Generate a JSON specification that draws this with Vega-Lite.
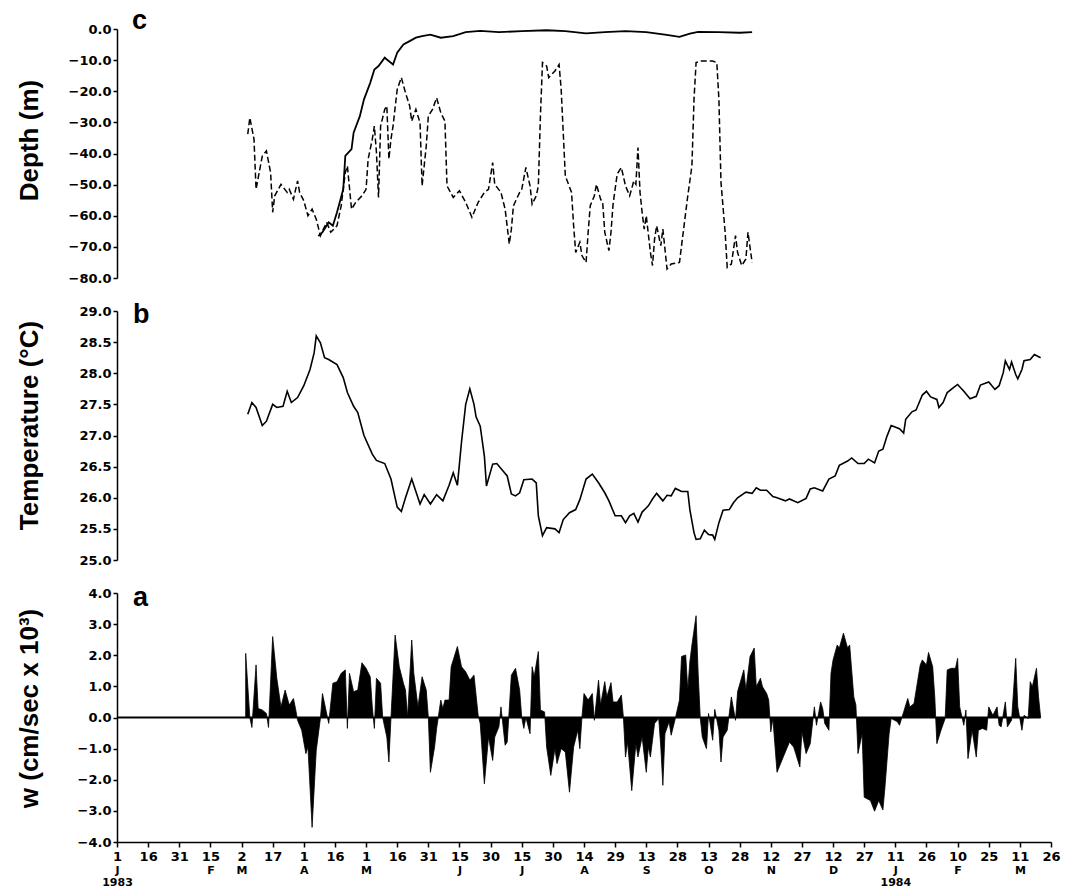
{
  "$schema": "https://vega.github.io/schema/vega-lite/v6.json",
  "background": "white",
  "padding": {"left": 16, "top": 7, "right": 10, "bottom": 5},
  "config": {
    "view": {"stroke": null},
    "axis": {
      "domainColor": "black", "domainWidth": 1.5,
      "tickColor": "black", "tickWidth": 1.5,
      "labelColor": "black", "labelFont": "DejaVu Sans", "labelFontWeight": "bold", "labelFontSize": 13,
      "titleColor": "black", "titleFont": "Liberation Sans", "titleFontWeight": "bold", "titleFontSize": 26,
      "grid": false
    },
    "title": {"font": "Liberation Sans", "fontWeight": "bold", "fontSize": 27, "color": "black", "anchor": "start", "frame": "group", "baseline": "alphabetic"}
  },
  "datasets": {
    "depthDashed": [
      {"date":"1983-03-05","depth":-33.8},{"date":"1983-03-06","depth":-28.5},{"date":"1983-03-08","depth":-35.4},{"date":"1983-03-09","depth":-51.5},
      {"date":"1983-03-12","depth":-40.8},{"date":"1983-03-14","depth":-39.2},{"date":"1983-03-16","depth":-46.1},{"date":"1983-03-17","depth":-58.9},
      {"date":"1983-03-18","depth":-53.6},{"date":"1983-03-21","depth":-49.9},{"date":"1983-03-24","depth":-52.5},{"date":"1983-03-25","depth":-51.5},
      {"date":"1983-03-27","depth":-54.7},{"date":"1983-03-29","depth":-48.8},{"date":"1983-03-30","depth":-52.5},{"date":"1983-04-01","depth":-55.2},
      {"date":"1983-04-03","depth":-60.0},{"date":"1983-04-05","depth":-57.9},{"date":"1983-04-07","depth":-61.1},{"date":"1983-04-09","depth":-66.4},
      {"date":"1983-04-12","depth":-62.1},{"date":"1983-04-14","depth":-65.3},{"date":"1983-04-17","depth":-63.2},{"date":"1983-04-19","depth":-56.8},
      {"date":"1983-04-21","depth":-46.1},{"date":"1983-04-22","depth":-44.0},{"date":"1983-04-24","depth":-57.9},{"date":"1983-04-26","depth":-55.7},
      {"date":"1983-04-29","depth":-53.6},{"date":"1983-05-01","depth":-51.5},{"date":"1983-05-02","depth":-41.8},{"date":"1983-05-04","depth":-35.4},
      {"date":"1983-05-05","depth":-31.2},{"date":"1983-05-06","depth":-39.7},{"date":"1983-05-07","depth":-54.1},{"date":"1983-05-08","depth":-31.2},
      {"date":"1983-05-10","depth":-25.8},{"date":"1983-05-11","depth":-24.7},{"date":"1983-05-12","depth":-41.8},{"date":"1983-05-13","depth":-35.4},
      {"date":"1983-05-14","depth":-31.2},{"date":"1983-05-16","depth":-19.4},{"date":"1983-05-18","depth":-15.6},{"date":"1983-05-20","depth":-20.5},
      {"date":"1983-05-22","depth":-24.7},{"date":"1983-05-23","depth":-29.6},{"date":"1983-05-25","depth":-25.8},{"date":"1983-05-27","depth":-30.1},
      {"date":"1983-05-28","depth":-50.4},{"date":"1983-05-30","depth":-37.6},{"date":"1983-05-31","depth":-28.0},{"date":"1983-06-02","depth":-25.8},
      {"date":"1983-06-04","depth":-22.1},{"date":"1983-06-06","depth":-26.9},{"date":"1983-06-08","depth":-29.6},{"date":"1983-06-09","depth":-50.4},
      {"date":"1983-06-12","depth":-54.1},{"date":"1983-06-15","depth":-52.0},{"date":"1983-06-18","depth":-55.7},{"date":"1983-06-21","depth":-60.5},
      {"date":"1983-06-24","depth":-55.7},{"date":"1983-06-27","depth":-52.5},{"date":"1983-06-29","depth":-51.5},{"date":"1983-07-01","depth":-42.9},
      {"date":"1983-07-02","depth":-49.9},{"date":"1983-07-05","depth":-52.5},{"date":"1983-07-07","depth":-57.9},{"date":"1983-07-09","depth":-69.1},
      {"date":"1983-07-10","depth":-64.3},{"date":"1983-07-11","depth":-56.8},{"date":"1983-07-14","depth":-52.5},{"date":"1983-07-15","depth":-51.5},
      {"date":"1983-07-17","depth":-44.5},{"date":"1983-07-19","depth":-50.4},{"date":"1983-07-20","depth":-56.3},{"date":"1983-07-22","depth":-53.6},
      {"date":"1983-07-23","depth":-50.4},{"date":"1983-07-24","depth":-28.0},{"date":"1983-07-25","depth":-10.8},{"date":"1983-07-27","depth":-11.9},
      {"date":"1983-07-28","depth":-15.6},{"date":"1983-07-31","depth":-13.5},{"date":"1983-08-02","depth":-11.4},{"date":"1983-08-03","depth":-19.4},
      {"date":"1983-08-04","depth":-33.3},{"date":"1983-08-05","depth":-47.2},{"date":"1983-08-08","depth":-52.5},{"date":"1983-08-09","depth":-63.2},
      {"date":"1983-08-10","depth":-71.8},{"date":"1983-08-12","depth":-68.5},{"date":"1983-08-13","depth":-72.8},{"date":"1983-08-15","depth":-75.0},
      {"date":"1983-08-16","depth":-65.3},{"date":"1983-08-17","depth":-56.8},{"date":"1983-08-19","depth":-53.6},{"date":"1983-08-20","depth":-49.9},
      {"date":"1983-08-22","depth":-54.7},{"date":"1983-08-23","depth":-55.7},{"date":"1983-08-24","depth":-65.3},{"date":"1983-08-26","depth":-71.2},
      {"date":"1983-08-27","depth":-65.3},{"date":"1983-08-28","depth":-56.3},{"date":"1983-08-30","depth":-46.6},{"date":"1983-09-01","depth":-44.5},
      {"date":"1983-09-03","depth":-50.4},{"date":"1983-09-05","depth":-53.6},{"date":"1983-09-07","depth":-48.8},{"date":"1983-09-08","depth":-49.9},
      {"date":"1983-09-09","depth":-38.1},{"date":"1983-09-10","depth":-52.5},{"date":"1983-09-11","depth":-58.9},{"date":"1983-09-12","depth":-64.3},
      {"date":"1983-09-13","depth":-60.0},{"date":"1983-09-15","depth":-71.8},{"date":"1983-09-16","depth":-76.0},{"date":"1983-09-17","depth":-67.5},
      {"date":"1983-09-18","depth":-63.2},{"date":"1983-09-20","depth":-69.6},{"date":"1983-09-21","depth":-64.3},{"date":"1983-09-23","depth":-77.1},
      {"date":"1983-09-25","depth":-75.5},{"date":"1983-09-29","depth":-75.0},{"date":"1983-10-01","depth":-64.3},{"date":"1983-10-03","depth":-53.6},
      {"date":"1983-10-05","depth":-44.0},{"date":"1983-10-06","depth":-22.6},{"date":"1983-10-07","depth":-10.8},{"date":"1983-10-09","depth":-10.3},
      {"date":"1983-10-15","depth":-10.3},{"date":"1983-10-17","depth":-10.8},{"date":"1983-10-18","depth":-22.6},{"date":"1983-10-19","depth":-49.3},
      {"date":"1983-10-21","depth":-65.3},{"date":"1983-10-22","depth":-76.6},{"date":"1983-10-24","depth":-75.5},{"date":"1983-10-26","depth":-66.4},
      {"date":"1983-10-27","depth":-71.8},{"date":"1983-10-29","depth":-76.0},{"date":"1983-10-31","depth":-73.9},{"date":"1983-11-01","depth":-65.3},
      {"date":"1983-11-03","depth":-75.0}
    ],
    "depthSolid": [
      {"date":"1983-04-08","depth":-66.5},{"date":"1983-04-10","depth":-65.3},{"date":"1983-04-13","depth":-62.1},{"date":"1983-04-15","depth":-63.2},
      {"date":"1983-04-17","depth":-58.9},{"date":"1983-04-20","depth":-51.5},{"date":"1983-04-21","depth":-40.8},{"date":"1983-04-24","depth":-38.6},
      {"date":"1983-04-25","depth":-33.3},{"date":"1983-04-28","depth":-28.0},{"date":"1983-04-30","depth":-22.6},{"date":"1983-05-03","depth":-17.3},
      {"date":"1983-05-05","depth":-13.0},{"date":"1983-05-07","depth":-11.9},{"date":"1983-05-10","depth":-9.2},{"date":"1983-05-11","depth":-9.8},
      {"date":"1983-05-14","depth":-11.4},{"date":"1983-05-16","depth":-7.6},{"date":"1983-05-19","depth":-5.0},{"date":"1983-05-22","depth":-3.9},
      {"date":"1983-05-25","depth":-2.8},{"date":"1983-05-28","depth":-2.3},{"date":"1983-06-01","depth":-1.8},{"date":"1983-06-06","depth":-2.8},
      {"date":"1983-06-12","depth":-2.3},{"date":"1983-06-18","depth":-1.0},{"date":"1983-06-25","depth":-0.6},{"date":"1983-07-04","depth":-1.0},
      {"date":"1983-07-15","depth":-0.7},{"date":"1983-07-27","depth":-0.4},{"date":"1983-08-05","depth":-0.7},{"date":"1983-08-15","depth":-1.4},
      {"date":"1983-08-24","depth":-1.0},{"date":"1983-09-03","depth":-0.7},{"date":"1983-09-13","depth":-1.0},{"date":"1983-09-22","depth":-1.8},
      {"date":"1983-09-29","depth":-2.5},{"date":"1983-10-04","depth":-1.5},{"date":"1983-10-08","depth":-0.9},{"date":"1983-10-18","depth":-1.0},
      {"date":"1983-10-28","depth":-1.2},{"date":"1983-11-03","depth":-1.0}
    ],
    "temperature": [
      {"date":"1983-03-05","temp":27.34},{"date":"1983-03-07","temp":27.53},{"date":"1983-03-09","temp":27.45},{"date":"1983-03-12","temp":27.16},
      {"date":"1983-03-14","temp":27.23},{"date":"1983-03-17","temp":27.50},{"date":"1983-03-19","temp":27.45},{"date":"1983-03-22","temp":27.47},
      {"date":"1983-03-24","temp":27.71},{"date":"1983-03-26","temp":27.53},{"date":"1983-03-29","temp":27.61},{"date":"1983-04-01","temp":27.80},
      {"date":"1983-04-04","temp":28.06},{"date":"1983-04-06","temp":28.33},{"date":"1983-04-07","temp":28.60},{"date":"1983-04-09","temp":28.49},
      {"date":"1983-04-11","temp":28.25},{"date":"1983-04-13","temp":28.22},{"date":"1983-04-17","temp":28.14},{"date":"1983-04-20","temp":27.93},
      {"date":"1983-04-22","temp":27.69},{"date":"1983-04-25","temp":27.47},{"date":"1983-04-27","temp":27.37},{"date":"1983-04-30","temp":27.00},
      {"date":"1983-05-04","temp":26.70},{"date":"1983-05-06","temp":26.60},{"date":"1983-05-10","temp":26.55},{"date":"1983-05-13","temp":26.30},
      {"date":"1983-05-16","temp":25.85},{"date":"1983-05-18","temp":25.78},{"date":"1983-05-20","temp":26.00},{"date":"1983-05-23","temp":26.30},
      {"date":"1983-05-25","temp":26.10},{"date":"1983-05-27","temp":25.90},{"date":"1983-05-29","temp":26.05},{"date":"1983-06-01","temp":25.90},
      {"date":"1983-06-04","temp":26.05},{"date":"1983-06-07","temp":25.95},{"date":"1983-06-10","temp":26.20},{"date":"1983-06-12","temp":26.40},
      {"date":"1983-06-14","temp":26.20},{"date":"1983-06-16","temp":26.90},{"date":"1983-06-18","temp":27.50},{"date":"1983-06-20","temp":27.75},
      {"date":"1983-06-22","temp":27.50},{"date":"1983-06-23","temp":27.30},{"date":"1983-06-25","temp":27.15},{"date":"1983-06-27","temp":26.67},
      {"date":"1983-06-28","temp":26.19},{"date":"1983-07-01","temp":26.54},{"date":"1983-07-03","temp":26.55},{"date":"1983-07-06","temp":26.43},
      {"date":"1983-07-08","temp":26.35},{"date":"1983-07-10","temp":26.06},{"date":"1983-07-12","temp":26.03},{"date":"1983-07-14","temp":26.08},
      {"date":"1983-07-16","temp":26.29},{"date":"1983-07-20","temp":26.30},{"date":"1983-07-22","temp":26.24},{"date":"1983-07-23","temp":25.71},
      {"date":"1983-07-25","temp":25.39},{"date":"1983-07-27","temp":25.52},{"date":"1983-07-31","temp":25.50},{"date":"1983-08-02","temp":25.44},
      {"date":"1983-08-04","temp":25.65},{"date":"1983-08-07","temp":25.76},{"date":"1983-08-10","temp":25.81},{"date":"1983-08-12","temp":25.97},
      {"date":"1983-08-15","temp":26.30},{"date":"1983-08-18","temp":26.38},{"date":"1983-08-21","temp":26.24},{"date":"1983-08-24","temp":26.08},
      {"date":"1983-08-26","temp":25.95},{"date":"1983-08-29","temp":25.71},{"date":"1983-09-01","temp":25.71},{"date":"1983-09-03","temp":25.60},
      {"date":"1983-09-05","temp":25.71},{"date":"1983-09-07","temp":25.75},{"date":"1983-09-09","temp":25.61},{"date":"1983-09-11","temp":25.77},
      {"date":"1983-09-14","temp":25.87},{"date":"1983-09-16","temp":25.98},{"date":"1983-09-18","temp":26.07},{"date":"1983-09-21","temp":25.95},
      {"date":"1983-09-23","temp":26.04},{"date":"1983-09-25","temp":26.03},{"date":"1983-09-27","temp":26.15},{"date":"1983-09-30","temp":26.10},
      {"date":"1983-10-03","temp":26.10},{"date":"1983-10-04","temp":25.81},{"date":"1983-10-06","temp":25.44},{"date":"1983-10-07","temp":25.33},
      {"date":"1983-10-09","temp":25.34},{"date":"1983-10-11","temp":25.48},{"date":"1983-10-13","temp":25.41},{"date":"1983-10-15","temp":25.40},
      {"date":"1983-10-16","temp":25.33},{"date":"1983-10-18","temp":25.60},{"date":"1983-10-20","temp":25.80},{"date":"1983-10-23","temp":25.81},
      {"date":"1983-10-25","temp":25.92},{"date":"1983-10-27","temp":26.00},{"date":"1983-10-31","temp":26.09},{"date":"1983-11-03","temp":26.07},
      {"date":"1983-11-05","temp":26.16},{"date":"1983-11-07","temp":26.12},{"date":"1983-11-10","temp":26.12},{"date":"1983-11-13","temp":26.02},
      {"date":"1983-11-15","temp":26.00},{"date":"1983-11-19","temp":25.95},{"date":"1983-11-21","temp":25.98},{"date":"1983-11-25","temp":25.92},
      {"date":"1983-11-29","temp":25.99},{"date":"1983-12-01","temp":26.14},{"date":"1983-12-03","temp":26.16},{"date":"1983-12-07","temp":26.11},
      {"date":"1983-12-10","temp":26.30},{"date":"1983-12-13","temp":26.35},{"date":"1983-12-15","temp":26.52},{"date":"1983-12-19","temp":26.59},
      {"date":"1983-12-21","temp":26.64},{"date":"1983-12-24","temp":26.55},{"date":"1983-12-27","temp":26.55},{"date":"1983-12-29","temp":26.62},
      {"date":"1984-01-01","temp":26.56},{"date":"1984-01-03","temp":26.75},{"date":"1984-01-05","temp":26.78},{"date":"1984-01-07","temp":26.99},
      {"date":"1984-01-09","temp":27.16},{"date":"1984-01-13","temp":27.11},{"date":"1984-01-15","temp":27.04},{"date":"1984-01-16","temp":27.26},
      {"date":"1984-01-19","temp":27.38},{"date":"1984-01-21","temp":27.41},{"date":"1984-01-24","temp":27.65},{"date":"1984-01-26","temp":27.71},
      {"date":"1984-01-28","temp":27.62},{"date":"1984-01-31","temp":27.58},{"date":"1984-02-01","temp":27.45},{"date":"1984-02-03","temp":27.53},
      {"date":"1984-02-05","temp":27.69},{"date":"1984-02-08","temp":27.77},{"date":"1984-02-10","temp":27.82},{"date":"1984-02-13","temp":27.71},
      {"date":"1984-02-16","temp":27.59},{"date":"1984-02-19","temp":27.63},{"date":"1984-02-21","temp":27.81},{"date":"1984-02-25","temp":27.86},
      {"date":"1984-02-28","temp":27.74},{"date":"1984-03-01","temp":27.80},{"date":"1984-03-03","temp":28.01},{"date":"1984-03-04","temp":28.20},
      {"date":"1984-03-06","temp":28.06},{"date":"1984-03-07","temp":28.18},{"date":"1984-03-09","temp":27.98},{"date":"1984-03-10","temp":27.91},
      {"date":"1984-03-12","temp":28.06},{"date":"1984-03-13","temp":28.20},{"date":"1984-03-16","temp":28.22},{"date":"1984-03-18","temp":28.30},
      {"date":"1984-03-21","temp":28.25}
    ],
    "w": [
      {"date":"1983-03-04","w":2.06},{"date":"1983-03-06","w":0},{"date":"1983-03-07","w":-0.32},{"date":"1983-03-09","w":1.69},
      {"date":"1983-03-10","w":0.29},{"date":"1983-03-12","w":0.24},{"date":"1983-03-14","w":0.13},{"date":"1983-03-15","w":-0.32},
      {"date":"1983-03-17","w":2.60},{"date":"1983-03-19","w":1.26},{"date":"1983-03-21","w":0.34},{"date":"1983-03-23","w":0.88},
      {"date":"1983-03-25","w":0.40},{"date":"1983-03-27","w":0.61},{"date":"1983-03-28","w":0.29},{"date":"1983-03-29","w":-0.09},
      {"date":"1983-03-31","w":-0.41},{"date":"1983-04-02","w":-1.16},{"date":"1983-04-03","w":-0.95},{"date":"1983-04-05","w":-3.53},
      {"date":"1983-04-07","w":-1.05},{"date":"1983-04-09","w":-0.03},{"date":"1983-04-10","w":0.77},{"date":"1983-04-13","w":-0.19},
      {"date":"1983-04-15","w":1.10},{"date":"1983-04-17","w":1.15},{"date":"1983-04-19","w":1.42},{"date":"1983-04-21","w":1.53},
      {"date":"1983-04-22","w":-0.35},{"date":"1983-04-23","w":1.42},{"date":"1983-04-25","w":0.83},{"date":"1983-04-27","w":0.88},
      {"date":"1983-04-29","w":1.76},{"date":"1983-05-01","w":1.58},{"date":"1983-05-03","w":1.31},{"date":"1983-05-04","w":0.34},
      {"date":"1983-05-05","w":-0.35},{"date":"1983-05-06","w":1.26},{"date":"1983-05-08","w":1.10},{"date":"1983-05-09","w":0},
      {"date":"1983-05-11","w":-0.63},{"date":"1983-05-12","w":-1.43},{"date":"1983-05-13","w":0},{"date":"1983-05-15","w":2.65},
      {"date":"1983-05-17","w":1.63},{"date":"1983-05-19","w":1.10},{"date":"1983-05-20","w":0.88},{"date":"1983-05-21","w":0},
      {"date":"1983-05-23","w":2.49},{"date":"1983-05-24","w":1.42},{"date":"1983-05-26","w":0.34},{"date":"1983-05-28","w":1.31},
      {"date":"1983-05-30","w":0.88},{"date":"1983-05-31","w":0},{"date":"1983-06-01","w":-1.76},{"date":"1983-06-03","w":-0.95},
      {"date":"1983-06-04","w":-0.35},{"date":"1983-06-06","w":0.56},{"date":"1983-06-07","w":0.29},{"date":"1983-06-08","w":0.56},
      {"date":"1983-06-10","w":0.56},{"date":"1983-06-11","w":1.63},{"date":"1983-06-14","w":2.28},{"date":"1983-06-16","w":1.63},
      {"date":"1983-06-18","w":1.47},{"date":"1983-06-20","w":1.20},{"date":"1983-06-22","w":1.36},{"date":"1983-06-24","w":0.07},
      {"date":"1983-06-25","w":-0.19},{"date":"1983-06-27","w":-2.13},{"date":"1983-06-29","w":-0.63},{"date":"1983-07-01","w":-1.38},
      {"date":"1983-07-02","w":-0.63},{"date":"1983-07-04","w":-0.30},{"date":"1983-07-05","w":0.34},{"date":"1983-07-07","w":-0.89},
      {"date":"1983-07-08","w":-0.79},{"date":"1983-07-10","w":1.36},{"date":"1983-07-12","w":1.58},{"date":"1983-07-14","w":0.88},
      {"date":"1983-07-15","w":0},{"date":"1983-07-16","w":-0.35},{"date":"1983-07-17","w":0},{"date":"1983-07-19","w":-0.52},
      {"date":"1983-07-20","w":1.63},{"date":"1983-07-21","w":1.31},{"date":"1983-07-23","w":2.12},{"date":"1983-07-24","w":0.24},
      {"date":"1983-07-26","w":0.18},{"date":"1983-07-27","w":-0.95},{"date":"1983-07-29","w":-1.86},{"date":"1983-07-31","w":-1.00},
      {"date":"1983-08-01","w":-1.48},{"date":"1983-08-03","w":-1.00},{"date":"1983-08-05","w":-1.11},{"date":"1983-08-07","w":-2.40},
      {"date":"1983-08-09","w":-0.95},{"date":"1983-08-11","w":-0.41},{"date":"1983-08-12","w":-1.00},{"date":"1983-08-13","w":0},
      {"date":"1983-08-14","w":0.77},{"date":"1983-08-16","w":0.56},{"date":"1983-08-18","w":0.77},{"date":"1983-08-19","w":-0.09},
      {"date":"1983-08-21","w":1.20},{"date":"1983-08-22","w":0.40},{"date":"1983-08-24","w":1.15},{"date":"1983-08-25","w":0.66},
      {"date":"1983-08-27","w":1.12},{"date":"1983-08-28","w":0.50},{"date":"1983-08-30","w":0.50},{"date":"1983-09-01","w":0.72},
      {"date":"1983-09-02","w":0},{"date":"1983-09-03","w":-1.27},{"date":"1983-09-04","w":-0.79},{"date":"1983-09-06","w":-2.35},
      {"date":"1983-09-08","w":-0.84},{"date":"1983-09-09","w":-1.27},{"date":"1983-09-11","w":-0.63},{"date":"1983-09-13","w":-1.76},
      {"date":"1983-09-14","w":-0.95},{"date":"1983-09-15","w":-1.27},{"date":"1983-09-17","w":-0.19},{"date":"1983-09-19","w":-0.03},
      {"date":"1983-09-20","w":-0.95},{"date":"1983-09-21","w":-2.18},{"date":"1983-09-22","w":-0.52},{"date":"1983-09-24","w":-0.14},
      {"date":"1983-09-25","w":-0.57},{"date":"1983-09-27","w":-0.03},{"date":"1983-09-29","w":0.56},{"date":"1983-09-30","w":1.96},
      {"date":"1983-10-02","w":2.01},{"date":"1983-10-03","w":0.88},{"date":"1983-10-04","w":1.79},{"date":"1983-10-05","w":2.33},
      {"date":"1983-10-07","w":3.27},{"date":"1983-10-08","w":1.42},{"date":"1983-10-09","w":0},{"date":"1983-10-10","w":-0.63},
      {"date":"1983-10-12","w":-1.00},{"date":"1983-10-13","w":0.13},{"date":"1983-10-15","w":-0.73},{"date":"1983-10-16","w":0.26},
      {"date":"1983-10-18","w":-0.41},{"date":"1983-10-19","w":-1.43},{"date":"1983-10-20","w":-0.63},{"date":"1983-10-22","w":-0.41},
      {"date":"1983-10-24","w":0.66},{"date":"1983-10-26","w":-0.09},{"date":"1983-10-27","w":0.83},{"date":"1983-10-30","w":1.53},
      {"date":"1983-10-31","w":0.88},{"date":"1983-11-02","w":1.96},{"date":"1983-11-04","w":2.23},{"date":"1983-11-05","w":0.99},
      {"date":"1983-11-07","w":1.26},{"date":"1983-11-08","w":0.99},{"date":"1983-11-10","w":0.77},{"date":"1983-11-11","w":0.56},
      {"date":"1983-11-12","w":-0.46},{"date":"1983-11-13","w":-0.03},{"date":"1983-11-15","w":-1.76},{"date":"1983-11-18","w":-1.27},
      {"date":"1983-11-21","w":-0.79},{"date":"1983-11-23","w":-0.95},{"date":"1983-11-24","w":-1.16},{"date":"1983-11-26","w":-1.59},
      {"date":"1983-11-27","w":-0.46},{"date":"1983-11-29","w":-1.16},{"date":"1983-12-01","w":-0.84},{"date":"1983-12-03","w":0.34},
      {"date":"1983-12-04","w":-0.25},{"date":"1983-12-06","w":0.50},{"date":"1983-12-07","w":0.29},{"date":"1983-12-08","w":-0.19},
      {"date":"1983-12-10","w":-0.41},{"date":"1983-12-11","w":1.42},{"date":"1983-12-12","w":1.85},{"date":"1983-12-14","w":2.33},
      {"date":"1983-12-15","w":2.23},{"date":"1983-12-17","w":2.71},{"date":"1983-12-19","w":2.23},{"date":"1983-12-20","w":2.33},
      {"date":"1983-12-22","w":0.66},{"date":"1983-12-23","w":0.40},{"date":"1983-12-24","w":-1.16},{"date":"1983-12-26","w":-0.52},
      {"date":"1983-12-27","w":-2.56},{"date":"1983-12-30","w":-2.67},{"date":"1984-01-01","w":-3.01},{"date":"1984-01-03","w":-2.67},
      {"date":"1984-01-05","w":-2.97},{"date":"1984-01-06","w":-2.24},{"date":"1984-01-08","w":-0.52},{"date":"1984-01-09","w":-0.03},
      {"date":"1984-01-12","w":-0.14},{"date":"1984-01-13","w":-0.25},{"date":"1984-01-15","w":0.18},{"date":"1984-01-17","w":0.61},
      {"date":"1984-01-18","w":0.34},{"date":"1984-01-20","w":0.45},{"date":"1984-01-23","w":1.69},{"date":"1984-01-24","w":1.85},
      {"date":"1984-01-26","w":1.69},{"date":"1984-01-27","w":2.09},{"date":"1984-01-29","w":1.63},{"date":"1984-01-30","w":0.66},
      {"date":"1984-01-31","w":-0.84},{"date":"1984-02-02","w":-0.41},{"date":"1984-02-04","w":-0.03},{"date":"1984-02-05","w":1.53},
      {"date":"1984-02-07","w":1.58},{"date":"1984-02-09","w":1.58},{"date":"1984-02-10","w":1.90},{"date":"1984-02-11","w":0.34},
      {"date":"1984-02-13","w":-0.25},{"date":"1984-02-14","w":0.24},{"date":"1984-02-15","w":-1.32},{"date":"1984-02-17","w":-0.41},
      {"date":"1984-02-19","w":-1.27},{"date":"1984-02-20","w":-0.41},{"date":"1984-02-22","w":-0.35},{"date":"1984-02-24","w":-0.41},
      {"date":"1984-02-25","w":0.34},{"date":"1984-02-27","w":0.07},{"date":"1984-02-29","w":0.34},{"date":"1984-03-01","w":-0.25},
      {"date":"1984-03-02","w":-0.30},{"date":"1984-03-04","w":0.50},{"date":"1984-03-05","w":-0.30},{"date":"1984-03-07","w":-0.09},
      {"date":"1984-03-09","w":1.90},{"date":"1984-03-10","w":0.34},{"date":"1984-03-12","w":-0.41},{"date":"1984-03-13","w":0.07},
      {"date":"1984-03-15","w":-0.03},{"date":"1984-03-16","w":1.15},{"date":"1984-03-17","w":0.99},{"date":"1984-03-19","w":1.58},
      {"date":"1984-03-20","w":0.66},{"date":"1984-03-21","w":0}
    ]
  },
  "spacing": 33,
  "bounds": "flush",
  "vconcat": [
    {
      "title": {"text": "c", "dx": 15, "offset": -12},
      "width": 934,
      "height": 249,
      "encoding": {
        "x": {"field": "date", "type": "temporal", "scale": {"type": "utc", "domain": [410227200000, 449107200000], "nice": false}, "axis": null},
        "y": {
          "field": "depth", "type": "quantitative",
          "scale": {"domain": [-80, 0], "nice": false, "zero": false},
          "axis": {
            "values": [0, -10, -20, -30, -40, -50, -60, -70, -80], "format": ".1f",
            "tickSize": 4, "labelPadding": 2,
            "title": "Depth (m)", "titleAngle": 270, "titleBaseline": "bottom", "titleAlign": "center", "titleX": -75, "titleY": 111
          }
        }
      },
      "layer": [
        {"data": {"name": "depthDashed"}, "mark": {"type": "line", "color": "black", "strokeWidth": 1.5, "strokeDash": [6, 3]}},
        {"data": {"name": "depthSolid"}, "mark": {"type": "line", "color": "black", "strokeWidth": 1.8}}
      ]
    },
    {
      "title": {"text": "b", "dx": 16, "offset": -24},
      "width": 934,
      "height": 249,
      "data": {"name": "temperature"},
      "mark": {"type": "line", "color": "black", "strokeWidth": 1.6},
      "encoding": {
        "x": {"field": "date", "type": "temporal", "scale": {"type": "utc", "domain": [410227200000, 449107200000], "nice": false}, "axis": null},
        "y": {
          "field": "temp", "type": "quantitative",
          "scale": {"domain": [25, 29], "nice": false, "zero": false},
          "axis": {
            "values": [25, 25.5, 26, 26.5, 27, 27.5, 28, 28.5, 29], "format": ".1f",
            "tickSize": 4, "labelPadding": 2,
            "title": "Temperature (°C)", "titleAngle": 270, "titleBaseline": "bottom", "titleAlign": "center", "titleX": -75, "titleY": 114
          }
        }
      }
    },
    {
      "title": {"text": "a", "dx": 16, "offset": -25},
      "width": 934,
      "height": 249,
      "resolve": {"axis": {"x": "independent"}},
      "layer": [
        {
          "data": {"name": "w"},
          "mark": {"type": "area", "color": "black", "stroke": "black", "strokeWidth": 0.8, "interpolate": "linear"},
          "encoding": {
            "x": {
              "field": "date", "type": "temporal", "title": null,
              "scale": {"type": "utc", "domain": [410227200000, 449107200000], "nice": false},
              "axis": {
                "orient": "bottom", "title": null,
                "values": [410227200000, 411523200000, 412819200000, 414115200000, 415411200000, 416707200000, 418003200000, 419299200000, 420595200000, 421891200000, 423187200000, 424483200000, 425779200000, 427075200000, 428371200000, 429667200000, 430963200000, 432259200000, 433555200000, 434851200000, 436147200000, 437443200000, 438739200000, 440035200000, 441331200000, 442627200000, 443923200000, 445219200000, 446515200000, 447811200000, 449107200000],
                "labelExpr": "'' + utcdate(datum.value)",
                "tickSize": 5, "labelPadding": 3, "labelFontSize": 13, "labelAngle": 0,
                "labelOverlap": false, "labelFlush": false
              }
            },
            "y": {
              "field": "w", "type": "quantitative", "stack": null,
              "title": "w (cm/sec x 10³)",
              "scale": {"domain": [-4, 4], "nice": false, "zero": false},
              "axis": {
                "values": [-4, -3, -2, -1, 0, 1, 2, 3, 4], "format": ".1f",
                "tickSize": 4, "labelPadding": 2,
                "titleAngle": 270, "titleBaseline": "bottom", "titleAlign": "center", "titleX": -75, "titleY": 115
              }
            },
            "y2": {"datum": 0}
          }
        },
        {
          "data": {"values": [{}]},
          "mark": {"type": "rule", "color": "black", "strokeWidth": 2},
          "encoding": {
            "x": {
              "datum": {"year": 1983, "month": 1, "date": 1, "utc": true}, "type": "temporal", "title": null,
              "scale": {"type": "utc", "domain": [410227200000, 449107200000], "nice": false},
              "axis": {
                "orient": "bottom", "title": null, "domain": false, "ticks": false,
                "values": [410227200000, 414115200000, 415411200000, 418003200000, 420595200000, 424483200000, 427075200000, 429667200000, 432259200000, 434851200000, 437443200000, 440035200000, 442627200000, 445219200000, 447811200000],
                "labelExpr": "utcmonth(datum.value) == 0 ? ['J', '' + utcyear(datum.value)] : substring('JFMAMJJASOND', utcmonth(datum.value), utcmonth(datum.value) + 1)",
                "labelPadding": 22, "labelFontSize": 11, "labelLineHeight": 12, "labelAngle": 0,
                "labelOverlap": false, "labelFlush": false
              }
            },
            "x2": {"datum": {"year": 1984, "month": 3, "date": 21, "utc": true}},
            "y": {
              "datum": 0, "type": "quantitative",
              "title": "w (cm/sec x 10³)",
              "scale": {"domain": [-4, 4], "nice": false, "zero": false},
              "axis": {
                "values": [-4, -3, -2, -1, 0, 1, 2, 3, 4], "format": ".1f",
                "tickSize": 4, "labelPadding": 2,
                "titleAngle": 270, "titleBaseline": "bottom", "titleAlign": "center", "titleX": -75, "titleY": 115
              }
            }
          }
        }
      ]
    }
  ]
}
